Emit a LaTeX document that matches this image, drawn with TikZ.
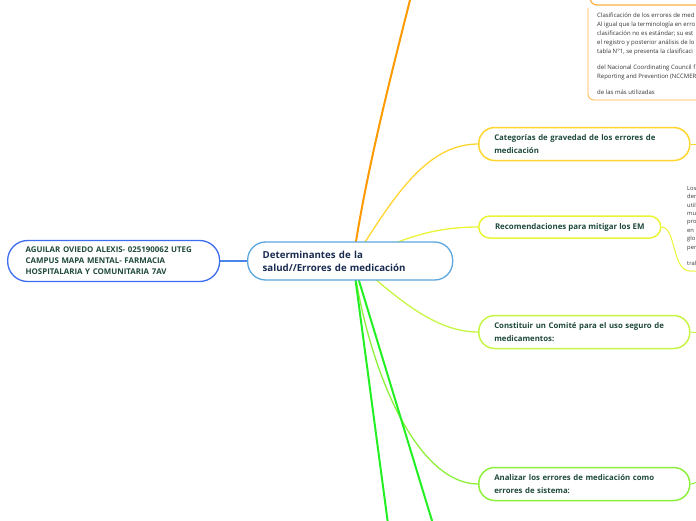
\documentclass[tikz,border=0pt]{standalone}
\usepackage{fontspec}
\setmainfont{Open Sans}
\usetikzlibrary{backgrounds}
\definecolor{authblue}{HTML}{3C6DF0}
\definecolor{linkblue}{HTML}{4A86E8}
\definecolor{cenblue}{HTML}{5AA7E0}
\definecolor{txtgreen}{HTML}{1F4A3A}
\definecolor{txtnavy}{HTML}{1A2B50}
\definecolor{corange}{HTML}{FF9A00}
\definecolor{lorange}{HTML}{FFB040}
\definecolor{cgold}{HTML}{FFD52E}
\definecolor{cyellow}{HTML}{EAF536}
\definecolor{clime}{HTML}{C6F542}
\definecolor{clgreen}{HTML}{8CF03C}
\definecolor{cgreen}{HTML}{22F022}
\definecolor{notetxt}{HTML}{333333}
\tikzset{
  authbox/.style={draw=authblue, line width=1.3pt, fill=white, rounded corners=20pt,
    text width=176pt, inner xsep=18pt, inner ysep=3pt, minimum height=41pt, align=left,
    font=\fontsize{7.9}{11}\selectfont\bfseries, text=txtgreen},
  cenbox/.style={draw=cenblue, line width=1.3pt, fill=white, rounded corners=18pt,
    text width=175pt, inner xsep=15pt, minimum height=38pt, align=left,
    font=\fontsize{9.7}{13}\selectfont\bfseries, text=txtnavy},
  kidbox/.style={line width=1.5pt, fill=white, rounded corners=16pt,
    text width=180pt, inner xsep=15.5pt, minimum height=33pt, align=left,
    font=\fontsize{7.8}{13}\selectfont\bfseries, text=txtgreen},
  onebox/.style={line width=1.5pt, fill=white, rounded corners=11pt,
    minimum width=182pt, inner xsep=14pt, minimum height=22pt, align=center,
    font=\fontsize{7.9}{13}\selectfont\bfseries, text=txtgreen},
  notetext/.style={inner sep=0pt, align=left, text=notetxt},
  branch/.style={line width=1.3pt},
}
\begin{document}
\begin{tikzpicture}[x=1pt,y=-1pt]
\useasboundingbox (0,0) rectangle (696,520);
\clip (0,0) rectangle (696,520);

% nodes
\node[authbox, anchor=west] (auth) at (7,261) {AGUILAR OVIEDO ALEXIS- 025190062 UTEG\\CAMPUS MAPA MENTAL- FARMACIA\\HOSPITALARIA Y COMUNITARIA 7AV};
\node[cenbox, anchor=west] (cen) at (247,261) {Determinantes de la\\salud//Errores de medicación};
\node[kidbox, draw=cgold, anchor=west] (cat) at (478,144) {Categorías de gravedad de los errores de\\medicación};
\node[onebox, draw=cyellow, anchor=west] (rec) at (478,227) {Recomendaciones para mitigar los EM};
\node[kidbox, draw=clime, anchor=west] (con) at (478,332) {Constituir un Comité para el uso seguro de\\medicamentos:};
\node[kidbox, draw=clgreen, anchor=west] (ana) at (478,484) {Analizar los errores de medicación como\\errores de sistema:};

% note boxes top right
\draw[lorange, line width=1.2pt, rounded corners=7pt] (590,-30) rectangle (740,5);
\draw[lorange, line width=0.8pt, rounded corners=6pt] (588,8) -- (588,100) -- (740,100);
\node[notetext, anchor=north west, font=\fontsize{6}{8.8}\selectfont] (note) at (597,13) {Clasificación de los errores de med\\
Al igual que la terminología en erro\\
clasificación no es estándar; su est\\
el registro y posterior análisis de lo\\
tabla N°1, se presenta la clasificaci\\[7.5pt]
del Nacional Coordinating Council f\\
Reporting and Prevention (NCCMER\\[7.5pt]
de las más utilizadas};

\node[notetext, anchor=north west, font=\fontsize{5.8}{8.4}\selectfont] (recnote) at (687,186) {Los\\der\\utili\\mu\\pro\\en l\\glo\\per\\[8.4pt]tral};

% free ends
\coordinate (hub) at (353,261);
\coordinate (oend) at (411,-4);
\coordinate (g1end) at (388,524);
\coordinate (g2end) at (433,524);
\coordinate (recend) at (700,271);
\coordinate (catend) at (700,144);
\coordinate (conend) at (700,333);
\coordinate (anaend) at (700,481);

\begin{scope}[on background layer]
\draw[linkblue, line width=1.1pt] (auth.east) -- (cen.west);
\draw[corange, line width=2pt] (hub) .. controls (366,170) and (395,60) .. (oend);
\draw[cgold, branch] (hub) .. controls (392,200) and (425,144) .. (cat.west);
\draw[cyellow, branch] (hub) .. controls (400,240) and (430,227) .. (rec.west);
\draw[clime, branch] (hub) .. controls (390,290) and (430,332) .. (con.west);
\draw[clgreen, branch] (hub) .. controls (370,380) and (420,484) .. (ana.west);
\draw[cgreen, line width=2pt] (hub) -- (g1end);
\draw[cgreen, line width=2pt] (hub) -- (g2end);
\draw[cyellow, line width=1pt] (rec.east) .. controls (676,227) and (672,271) .. (690,271) -- (recend);
\draw[cgold, line width=1pt] (cat.east) -- (catend);
\draw[clime, line width=1pt] (con.east) -- (conend);
\draw[clgreen, line width=1pt] (ana.east) .. controls (695,484) and (696,481) .. (anaend);
\end{scope}
\end{tikzpicture}
\end{document}
